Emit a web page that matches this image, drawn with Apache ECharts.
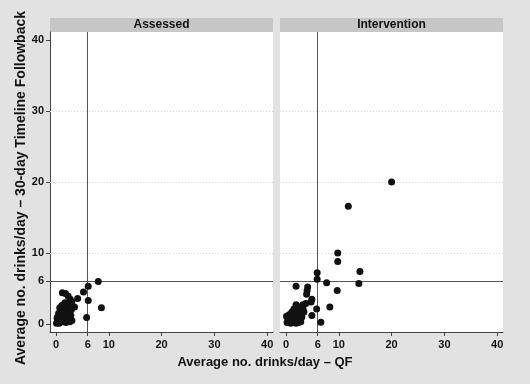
<!DOCTYPE html>
<html>
<head>
<meta charset="utf-8">
<script src="https://cdn.jsdelivr.net/npm/echarts@6/dist/echarts.min.js"></script>
<style>
  html, body { margin: 0; padding: 0; background: #e2e2e2; }
  #chart { width: 530px; height: 384px; }
</style>
</head>
<body>
<div id="chart"></div>
<script>
// panel names
var panels = ['Assessed', 'Intervention'];

// tick labels on both axes
var xTicks = [0, 6, 10, 20, 30, 40];
var yTicks = [0, 6, 10, 20, 30, 40];
var gridValues = [10, 20, 30];

// cut-off lines (6 drinks/day)
var cutoff = 6;

// [QF, Timeline Followback]
var assessedPoints = [
    [8.0, 6.0], [6.1, 5.3], [5.2, 4.5], [6.1, 3.3], [8.6, 2.3], [5.8, 0.9],
    [4.1, 3.6], [3.5, 2.4], [1.2, 4.4], [1.8, 4.3], [2.3, 3.9], [2.7, 3.5],
    [3.0, 3.1], [3.0, 0.5], [1.7, 2.5], [1.4, 2.7], [0.9, 2.0], [2.0, 1.8],
    [2.5, 1.5], [2.3, 1.1], [0.2, 0.2], [0.4, 0.5], [0.6, 0.3], [0.8, 0.8],
    [0.3, 1.0], [1.0, 0.4], [1.2, 1.2], [0.5, 1.5], [1.5, 0.7], [1.8, 1.5],
    [1.0, 1.8], [2.0, 0.5], [2.2, 1.0], [0.7, 2.3], [1.3, 2.0], [1.6, 2.2],
    [2.4, 1.6], [0.2, 0.8], [0.9, 1.1], [1.4, 0.3], [1.1, 2.6], [1.7, 3.0],
    [2.5, 2.2], [0.1, 0.1], [1.9, 0.2], [2.8, 1.2], [2.6, 0.3], [1.5, 1.4],
    [2.9, 2.0], [0.6, 0.1], [2.2, 2.9]
];

var interventionPoints = [
    [20.0, 20.0], [11.8, 16.6], [9.8, 10.0], [9.8, 8.8], [14.0, 7.4], [13.8, 5.7],
    [9.7, 4.7], [7.7, 5.8], [5.9, 7.2], [5.9, 6.3], [8.3, 2.4], [6.6, 0.25],
    [5.8, 2.1], [4.9, 1.2], [1.9, 5.3], [4.1, 5.2], [4.0, 4.7], [3.9, 4.2],
    [4.9, 3.5], [4.75, 3.1], [3.75, 2.9], [3.2, 2.7], [1.9, 2.7],
    [0.2, 0.2], [0.5, 0.4], [0.8, 0.2], [1.0, 0.6], [0.3, 0.9], [1.3, 1.0],
    [1.6, 0.4], [0.6, 1.3], [1.8, 1.4], [2.1, 0.8], [2.4, 0.2], [1.1, 1.7],
    [2.6, 1.5], [3.0, 1.0], [2.2, 1.9], [1.5, 2.1], [0.9, 0.1], [2.8, 0.3],
    [3.4, 1.7], [0.4, 0.5], [1.9, 0.1], [3.2, 2.2], [2.5, 2.4], [1.2, 0.3],
    [0.1, 1.1]
];

var FONT = 'Liberation Sans, Arial, sans-serif';

function makeX(idx) {
    return {
        type: 'value', gridIndex: idx,
        min: -1.14, max: 41.1,
        axisLine: { show: true, onZero: false, lineStyle: { color: '#444', width: 1 } },
        axisTick: { show: true, length: 4, customValues: xTicks, lineStyle: { color: '#444' } },
        axisLabel: {
            customValues: xTicks, margin: 7,
            color: '#111', fontFamily: FONT, fontWeight: 'bold', fontSize: 11
        },
        splitLine: { show: false }
    };
}

function makeY(idx) {
    var first = idx === 0;
    return {
        type: 'value', gridIndex: idx,
        min: -1.13, max: 41.13,
        axisLine: { show: first, onZero: false, lineStyle: { color: '#444', width: 1 } },
        axisTick: { show: first, length: 4, customValues: yTicks, lineStyle: { color: '#444' } },
        axisLabel: {
            show: first, customValues: yTicks, margin: 6,
            color: '#111', fontFamily: FONT, fontWeight: 'bold', fontSize: 11
        },
        splitLine: { show: false }
    };
}

function makeSeries(idx, pts) {
    var lines = [];
    // faint dotted grid
    gridValues.forEach(function (v) {
        lines.push({ yAxis: v, lineStyle: { color: '#d8d8d8', type: [1, 2], width: 1 } });
    });
    // cut-off lines
    lines.push({ xAxis: cutoff, lineStyle: { color: '#555', type: 'solid', width: 1 } });
    lines.push({ yAxis: cutoff, lineStyle: { color: '#555', type: 'solid', width: 1 } });

    return {
        type: 'scatter', xAxisIndex: idx, yAxisIndex: idx,
        data: pts, symbolSize: 7, z: 3,
        itemStyle: { color: '#111', opacity: 1 },
        markLine: {
            silent: true, symbol: 'none', animation: false, z: 1,
            label: { show: false },
            data: lines
        }
    };
}

var chart = echarts.init(document.getElementById('chart'));

var option = {
    backgroundColor: '#e2e2e2',
    animation: false,
    grid: [
        { left: 50, top: 32, width: 223, height: 300, show: true, backgroundColor: '#fff', borderWidth: 0 },
        { left: 280, top: 32, width: 223, height: 300, show: true, backgroundColor: '#fff', borderWidth: 0 }
    ],
    xAxis: [makeX(0), makeX(1)],
    yAxis: [makeY(0), makeY(1)],
    series: [makeSeries(0, assessedPoints), makeSeries(1, interventionPoints)],
    graphic: [
        // strip headers
        { type: 'rect', shape: { x: 50, y: 18, width: 223, height: 14 }, style: { fill: '#c6c6c6' } },
        { type: 'rect', shape: { x: 280, y: 18, width: 223, height: 14 }, style: { fill: '#c6c6c6' } },
        { type: 'text', x: 161.5, y: 25, style: { text: panels[0], fill: '#111', font: 'bold 12px ' + FONT, align: 'center', verticalAlign: 'middle' } },
        { type: 'text', x: 391.5, y: 25, style: { text: panels[1], fill: '#111', font: 'bold 12px ' + FONT, align: 'center', verticalAlign: 'middle' } },
        // axis titles
        { type: 'text', x: 265, y: 362, style: { text: 'Average no. drinks/day \u2013 QF', fill: '#111', font: 'bold 13px ' + FONT, align: 'center', verticalAlign: 'middle' } },
        { type: 'text', x: 21, y: 188, rotation: Math.PI / 2, style: { text: 'Average no. drinks/day \u2013 30-day Timeline Followback', fill: '#111', font: 'bold 14px ' + FONT, align: 'center', verticalAlign: 'middle' } }
    ]
};

chart.setOption(option);
</script>
</body>
</html>
